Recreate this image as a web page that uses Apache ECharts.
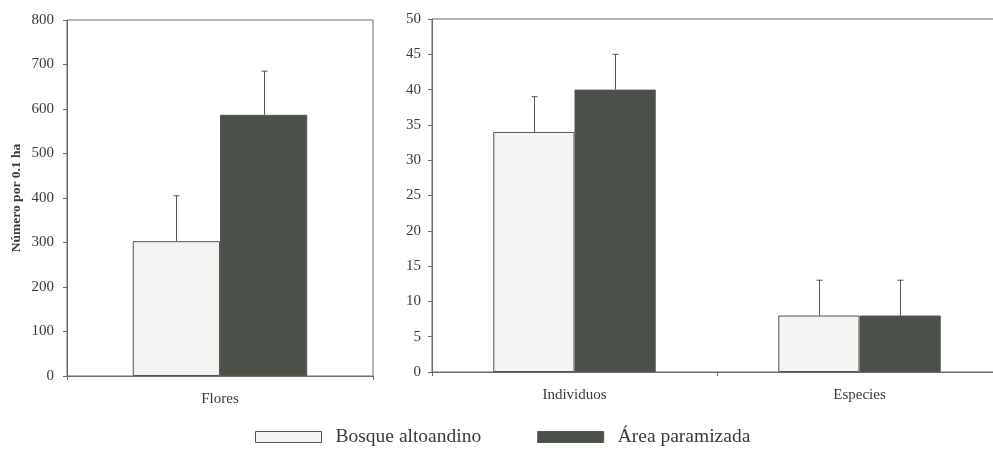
<!DOCTYPE html>
<html><head><meta charset="utf-8">
<script src="https://cdn.jsdelivr.net/npm/echarts@6/dist/echarts.min.js"></script>
<style>html,body{margin:0;padding:0;background:#fff}#c{width:993px;height:450px}</style>
</head><body><div id="c"></div>
<script>
var seriesNames = ['Bosque altoandino', 'Área paramizada'];
var leftCategories = ['Flores'];
var rightCategories = ['Individuos', 'Especies'];
var bosqueLeft = [303];
var paramoLeft = [587];
var bosqueLeftUpper = [405];
var paramoLeftUpper = [685];
var bosqueRight = [34, 8];
var paramoRight = [40, 8];
var bosqueRightUpper = [39, 13];
var paramoRightUpper = [45, 13];
var leftTicks = [0, 100, 200, 300, 400, 500, 600, 700, 800];
var rightTicks = [0, 5, 10, 15, 20, 25, 30, 35, 40, 45, 50];

var FONT = '"Liberation Serif", "DejaVu Serif", serif';
var TXT = '#3a3a3a';
var AX = '#6a6a6a';
var GAP = 0.43;

function errSeries(xi, yi, vals, uppers, sign) {
  var data = vals.map(function (v, i) { return [i, v, uppers[i]]; });
  return {
    type: 'custom', xAxisIndex: xi, yAxisIndex: yi, data: data, z: 5,
    encode: { x: 0, y: [1, 2] }, silent: true,
    renderItem: function (params, api) {
      var band = api.size([1, 0])[0];
      var off = sign * band * (1 - GAP) / 4;
      var p0 = api.coord([api.value(0), api.value(1)]);
      var p1 = api.coord([api.value(0), api.value(2)]);
      var x = Math.round(p0[0] + off) + 0.5;
      var st = { stroke: '#555', lineWidth: 1 };
      return { type: 'group', children: [
        { type: 'line', shape: { x1: x, y1: p0[1], x2: x, y2: p1[1] }, style: st },
        { type: 'line', shape: { x1: x - 3, y1: p1[1], x2: x + 3, y2: p1[1] }, style: st }
      ] };
    }
  };
}

function yAxis(gi, ticks, margin) {
  return {
    type: 'value', gridIndex: gi, min: ticks[0], max: ticks[ticks.length - 1],
    interval: ticks[1] - ticks[0],
    axisLine: { show: true, lineStyle: { color: AX } },
    axisTick: { show: true, length: 4, lineStyle: { color: AX } },
    splitLine: { show: false },
    axisLabel: { color: TXT, fontFamily: FONT, fontSize: 15, margin: margin }
  };
}
function xAxis(gi, cats) {
  return {
    type: 'category', gridIndex: gi, data: cats,
    axisLine: { show: true, lineStyle: { color: AX } },
    axisTick: { show: true, length: 4, lineStyle: { color: AX } },
    axisLabel: { color: TXT, fontFamily: FONT, fontSize: 15, margin: 16 }
  };
}
function bar(name, xi, yi, data, color) {
  return {
    name: name, type: 'bar', xAxisIndex: xi, yAxisIndex: yi, data: data,
    barGap: '0%', barCategoryGap: (GAP * 100) + '%',
    itemStyle: { color: color, borderColor: '#555', borderWidth: 1 }
  };
}

var leftY = yAxis(0, leftTicks, 13);
leftY.name = 'Número por 0.1 ha';
leftY.nameLocation = 'middle';
leftY.nameGap = 43;
leftY.nameRotate = 90;
leftY.nameTextStyle = { color: TXT, fontFamily: FONT, fontSize: 13.5, fontWeight: 'bold' };

var chart = echarts.init(document.getElementById('c'));
chart.setOption({
  backgroundColor: '#fff',
  animation: false,
  grid: [
    { left: 67, top: 20, width: 306, height: 356, show: true, borderColor: AX, borderWidth: 1, backgroundColor: 'transparent', outerBoundsMode: 'none' },
    { left: 432, top: 19, width: 570, height: 353, show: true, borderColor: AX, borderWidth: 1, backgroundColor: 'transparent', outerBoundsMode: 'none' }
  ],
  legend: {
    left: 250, top: 422, itemWidth: 66, itemHeight: 11, itemGap: 56,
    icon: 'rect', data: seriesNames,
    itemStyle: { borderColor: '#555', borderWidth: 1 },
    textStyle: { color: TXT, fontFamily: FONT, fontSize: 19.5, padding: [0, 0, 0, 9] }
  },
  xAxis: [xAxis(0, leftCategories), xAxis(1, rightCategories)],
  yAxis: [leftY, yAxis(1, rightTicks, 11)],
  series: [
    bar(seriesNames[0], 0, 0, bosqueLeft, '#f3f3f1'),
    bar(seriesNames[1], 0, 0, paramoLeft, '#4b5049'),
    bar(seriesNames[0], 1, 1, bosqueRight, '#f3f3f1'),
    bar(seriesNames[1], 1, 1, paramoRight, '#4b5049'),
    errSeries(0, 0, bosqueLeft, bosqueLeftUpper, -1),
    errSeries(0, 0, paramoLeft, paramoLeftUpper, 1),
    errSeries(1, 1, bosqueRight, bosqueRightUpper, -1),
    errSeries(1, 1, paramoRight, paramoRightUpper, 1)
  ]
});
</script></body></html>
